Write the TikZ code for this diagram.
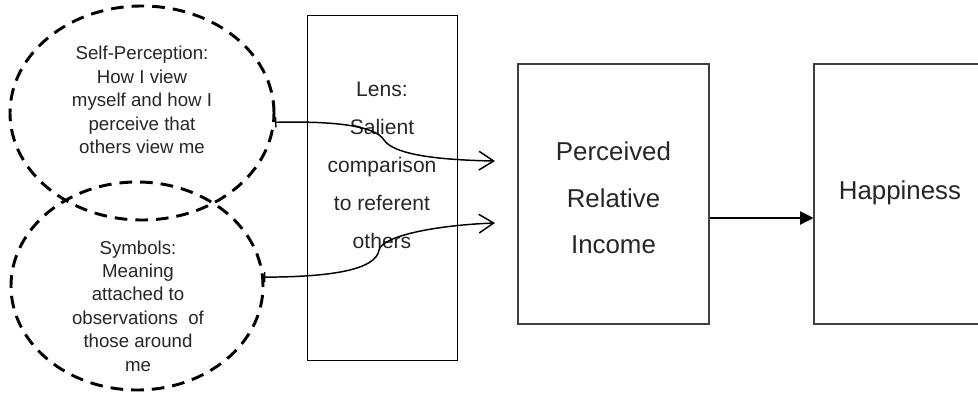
\documentclass[tikz,border=0pt]{standalone}
\usepackage{fontspec}
\setsansfont{Liberation Sans}
\usetikzlibrary{positioning,arrows.meta,shapes.geometric,calc}

\begin{document}
\begin{tikzpicture}[
  x=0.75pt, y=-0.75pt,
  font=\sffamily, text=black!85,
  frame/.style={draw=black!75, line width=0.8pt, inner sep=0pt},
  lensframe/.style={draw=black, line width=0.75pt, inner sep=0pt},
  bubble/.style={ellipse, draw=black, line width=2.2pt, dash pattern=on 9.5pt off 6pt, inner sep=0pt},
  small/.style={font=\sffamily\fontsize{14}{17.6}\selectfont, align=center},
  mid/.style={font=\sffamily\fontsize{15.8}{28.5}\selectfont, align=center},
  big/.style={font=\sffamily\fontsize{19.4}{35}\selectfont, align=center},
  link/.style={{Bar[width=7.5pt]}-{Straight Barb[length=11pt, width=14pt]}, line width=1.1pt},
  arr/.style={-{Triangle[length=10pt, width=10pt]}, line width=0.8pt},
]
  \useasboundingbox (0,0) rectangle (978,393);
  \clip (0,0) rectangle (978,393);

  % the two sources, the lens and the outcome boxes
  \node[bubble, minimum width=198pt, minimum height=160.5pt] (self) at (142,113) {};
  \node[bubble, minimum width=189pt, minimum height=156pt] (symb) at (137,286) {};
  \node[lensframe, minimum width=112.5pt, minimum height=258.75pt] (lens) at (382,187.5) {};
  \node[frame, minimum width=143.25pt, minimum height=195pt] (perc) at (613.5,194) {};
  \node[frame, minimum width=129pt, minimum height=195pt] (happy) at (900,194) {};

  % texts
  \node[small] (selftext) at (142,100) {Self-Perception:\\How I view\\myself and how I\\perceive that\\others view me};
  \node[small] (symbtext) at (138,306) {Symbols:\\Meaning\\attached to\\observations\ \ of\\those around\\me};
  \node[mid] (lenstext) at (382,165) {Lens:\\Salient\\comparison\\to referent\\others};
  \node[big] (perctext) at (613.5,198) {Perceived\\Relative\\Income};
  \node[big] (happytext) at (900,193) {Happiness};

  % connectors
  \coordinate (in1) at (495,161);
  \coordinate (in2) at (495,223);
  \draw[link] (self.356) .. controls (330,121) and (375,125) .. (384,140)
    .. controls (394,155) and (440,160) .. (in1);
  \draw[link] (symb.4) .. controls (330,277) and (376,270) .. (379,250)
    .. controls (383,235) and (440,225) .. (in2);
  \draw[arr] ([yshift=-18pt]perc.east) -- ([yshift=-18pt]happy.west);
\end{tikzpicture}
\end{document}
